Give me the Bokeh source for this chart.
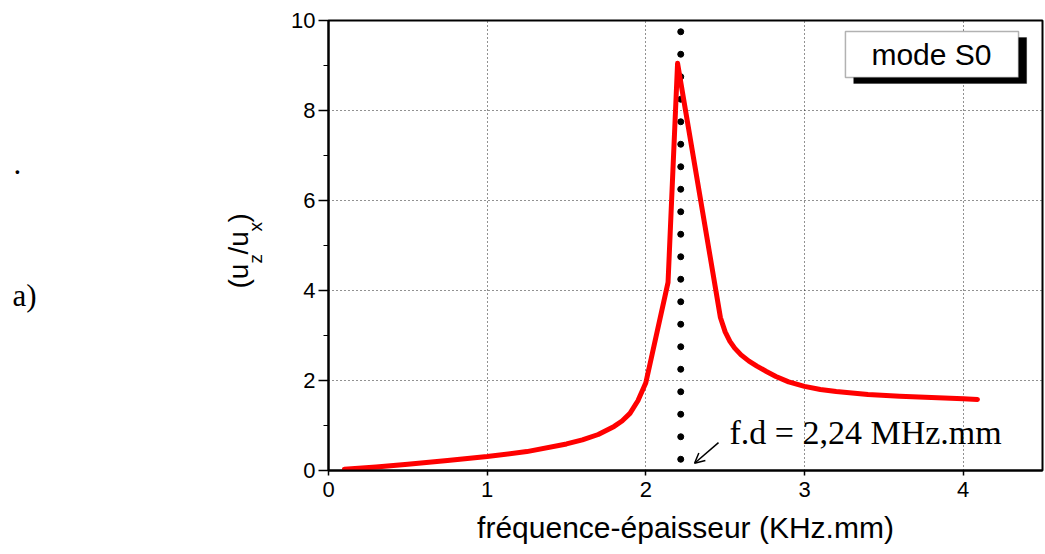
import numpy as np
from bokeh.plotting import figure
from bokeh.layouts import row
from bokeh.models import Range1d, Label, Arrow, OpenHead, FixedTicker, BoxAnnotation
from bokeh.embed import file_html
from bokeh.resources import INLINE

# ---- data ----
fd = [0.1, 0.3, 0.5, 0.75, 1.0, 1.25, 1.5, 1.6, 1.7, 1.8, 1.85, 1.9, 1.95, 2.0,
      2.14, 2.2, 2.47, 2.5, 2.53, 2.56, 2.6, 2.65, 2.7, 2.76, 2.82, 2.9, 3.0, 3.1,
      3.2, 3.4, 3.6, 3.8, 4.0, 4.09]
ratio = [0.03, 0.08, 0.14, 0.22, 0.31, 0.42, 0.59, 0.68, 0.80, 0.98, 1.10, 1.27, 1.55, 1.95,
         4.18, 9.05, 3.40, 3.08, 2.87, 2.72, 2.57, 2.43, 2.32, 2.20, 2.09, 1.97, 1.87, 1.80,
         1.755, 1.69, 1.65, 1.62, 1.595, 1.58]
fd_resonance = 2.22
x_ticks = [0, 1, 2, 3, 4]
y_ticks = [0, 2, 4, 6, 8, 10]
y_minor = [1, 3, 5, 7, 9]

LEFT_W = 280
W, H = 1045, 554
TOP, BOTTOM = 20, 84

p = figure(width=W - LEFT_W, height=H, output_backend="svg", toolbar_location=None,
           x_range=Range1d(0, 4.5), y_range=Range1d(0, 10),
           min_border_left=328 - LEFT_W, min_border_right=3,
           min_border_top=TOP, min_border_bottom=BOTTOM)
p.background_fill_color = "white"
p.border_fill_color = "white"
p.outline_line_color = "black"
p.outline_line_width = 2

# grids
p.xgrid.ticker = FixedTicker(ticks=[1, 2, 3, 4])
p.ygrid.ticker = FixedTicker(ticks=[2, 4, 6, 8])
for g in (p.xgrid, p.ygrid):
    g.grid_line_color = "#222222"
    g.grid_line_dash = "1 3"
    g.grid_line_width = 1

# axes
p.xaxis.ticker = FixedTicker(ticks=x_ticks)
p.yaxis.ticker = FixedTicker(ticks=y_ticks, minor_ticks=y_minor)
for ax in (p.xaxis[0], p.yaxis[0]):
    ax.axis_line_color = "black"
    ax.axis_line_width = 2
    ax.major_tick_line_color = "black"
    ax.major_tick_line_width = 1.5
    ax.minor_tick_line_color = "black"
    ax.major_tick_in = 0
    ax.minor_tick_in = 0
    ax.major_label_text_font = "Liberation Sans"
    ax.major_label_text_font_size = "22px"
    ax.major_label_text_color = "black"
p.xaxis.major_tick_out = 5
p.xaxis.minor_tick_out = 0
p.xaxis.major_label_standoff = 6
p.yaxis.major_tick_out = 10
p.yaxis.minor_tick_out = 5
p.yaxis.major_label_standoff = 3

p.xaxis.axis_label = "fréquence-épaisseur (KHz.mm)"
p.xaxis.axis_label_text_font = "Liberation Sans"
p.xaxis.axis_label_text_font_size = "30px"
p.xaxis.axis_label_text_font_style = "normal"
p.xaxis.axis_label_text_color = "black"
p.xaxis.axis_label_standoff = 11

# resonance marker (dotted vertical line)
dot_y = list(np.arange(0.25, 10.0, 0.5))
p.scatter([fd_resonance] * len(dot_y), dot_y, size=6, color="black")

# curve
p.line(fd, ratio, line_color="#ff0000", line_width=5, line_join="round", line_cap="round")

# legend-like box "mode S0"
p.add_layout(BoxAnnotation(left=3.31, right=4.40, bottom=8.60, top=9.62,
                           fill_color="black", fill_alpha=1, line_color="black"))
p.add_layout(BoxAnnotation(left=3.258, right=4.349, bottom=8.733, top=9.756,
                           fill_color="white", fill_alpha=1, line_color="black", line_width=1.5))
p.add_layout(Label(x=3.80, y=9.24, text="mode S0", text_align="center", text_baseline="middle",
                   text_font="Liberation Sans", text_font_size="30px", text_color="black"))

# annotation f.d
p.add_layout(Arrow(x_start=2.458, y_start=0.62, x_end=2.307, y_end=0.16,
                   line_color="black", line_width=1.5,
                   end=OpenHead(size=10, line_color="black", line_width=1.5)))
p.add_layout(Label(x=2.527, y=0.84, text="f.d = 2,24 MHz.mm", text_align="left",
                   text_baseline="alphabetic", text_font="Liberation Serif",
                   text_font_size="34px", text_color="black"))

# ---- left panel: y-axis title and panel marks (pixel coordinates, y = 554 - row) ----
q = figure(width=LEFT_W, height=H, output_backend="svg", toolbar_location=None,
           x_range=Range1d(0, LEFT_W), y_range=Range1d(BOTTOM, H - TOP),
           x_axis_type=None, y_axis_type=None,
           min_border_left=0, min_border_right=0,
           min_border_top=TOP, min_border_bottom=BOTTOM)
q.outline_line_color = None
q.background_fill_color = "white"
q.border_fill_color = "white"

def lab(px, py, t, size, angle=np.pi / 2, font="Liberation Sans"):
    q.add_layout(Label(x=px, y=H - py, text=t, angle=angle, text_align="left",
                       text_baseline="alphabetic", text_font=font,
                       text_font_size=size, text_color="black"))

lab(238, 288, "(u", "28px")
lab(255, 263, "z", "19px")
lab(238, 254, "/u", "28px")
lab(255, 231, "x", "19px")
lab(238, 222, ")", "28px")

lab(12, 295, "a)", "31px", angle=0, font="Liberation Serif")
lab(13, 163, ".", "31px", angle=0, font="Liberation Serif")

layout = row(q, p)
open("out.html", "w").write(file_html(layout, INLINE))
